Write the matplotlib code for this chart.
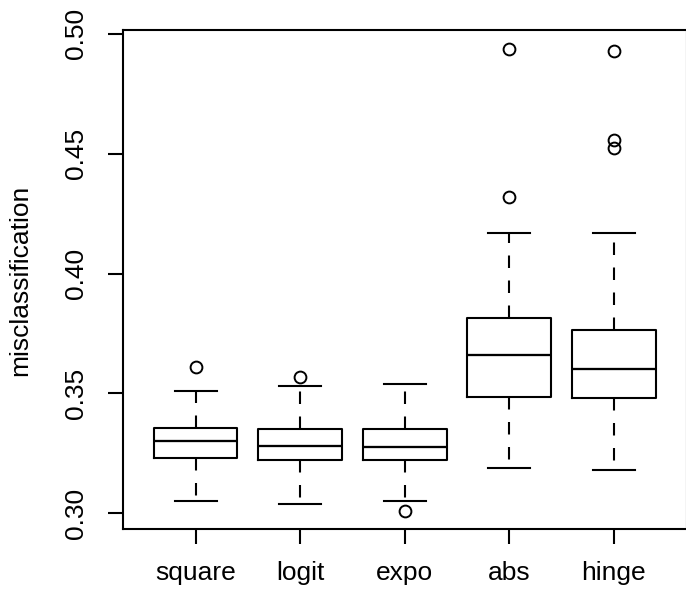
import matplotlib
matplotlib.use('Agg')
import matplotlib.pyplot as plt

# box statistics (R-style boxplot)
labels = ['square', 'logit', 'expo', 'abs', 'hinge']
whislo = [0.3051, 0.3041, 0.3051, 0.3191, 0.3180]
q1 = [0.3231, 0.3222, 0.3222, 0.3485, 0.3480]
med = [0.3301, 0.3280, 0.3276, 0.3660, 0.3601]
q3 = [0.3355, 0.3351, 0.3351, 0.3813, 0.3765]
whishi = [0.3509, 0.3530, 0.3541, 0.4170, 0.4170]
fliers = [[0.3609], [0.3570], [0.3009], [0.4935, 0.4318], [0.4926, 0.4556, 0.4522]]

plt.rcParams['font.family'] = ['Liberation Sans', 'DejaVu Sans']

stats = []
for i in range(len(labels)):
    stats.append(dict(label=labels[i], whislo=whislo[i], q1=q1[i], med=med[i],
                      q3=q3[i], whishi=whishi[i], fliers=fliers[i]))

fig = plt.figure(figsize=(6.86, 5.9), dpi=100)
ax = fig.add_axes([122.5 / 686, 61 / 590, 564.5 / 686, 499 / 590])

lw = 1.5
ax.bxp(stats, positions=range(1, 6), widths=0.8, capwidths=0.4,
       boxprops=dict(color='black', linewidth=lw),
       medianprops=dict(color='black', linewidth=lw * 1.1),
       whiskerprops=dict(color='black', linewidth=lw, linestyle=(0, (6, 6))),
       capprops=dict(color='black', linewidth=lw),
       flierprops=dict(marker='o', markerfacecolor='none', markeredgecolor='black',
                       markersize=8.5, markeredgewidth=1.4))

ax.set_xlim(0.3, 5.7)
ax.set_ylim(0.2935, 0.5015)
ax.set_yticks([0.30, 0.35, 0.40, 0.45, 0.50])
ax.set_yticklabels(['0.30', '0.35', '0.40', '0.45', '0.50'], rotation=90, va='center')
ax.set_xticks(range(1, 6))
ax.set_xticklabels(labels)
ax.tick_params(labelsize=19, length=10.8, width=lw, direction='out')
ax.tick_params(axis='y', pad=14)
ax.tick_params(axis='x', pad=12)
for s in ax.spines.values():
    s.set_linewidth(lw)

fig.text(20 / 686, 1 - 280 / 590, 'misclassification', fontsize=19,
         rotation=90, ha='center', va='center')

fig.savefig('out.png', dpi=100)
